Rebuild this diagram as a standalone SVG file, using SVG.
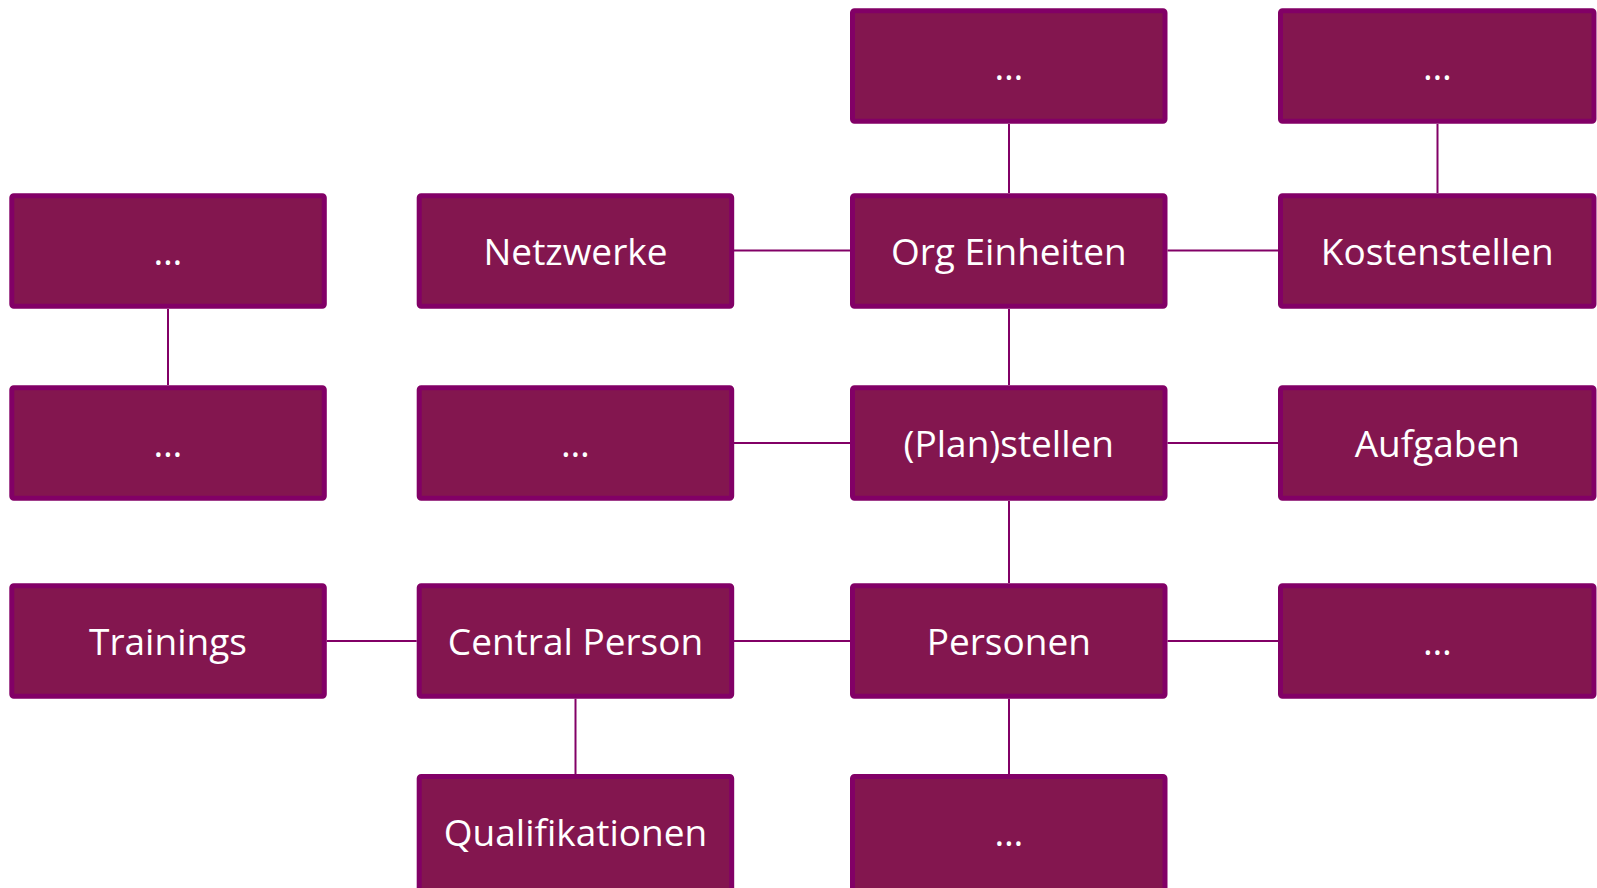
<svg xmlns="http://www.w3.org/2000/svg" width="1597" height="888" viewBox="0 0 1597 888">
<style>
.box{fill:#83164F;stroke:#820066;stroke-width:5}
.lbl{fill:#FFFFFF;font-family:"Open Sans","Liberation Sans",sans-serif;font-size:37px;text-anchor:middle}
.ln{stroke:#820066;stroke-width:2;fill:none}
</style>
<rect width="1597" height="888" fill="#FFFFFF"/>
<g id="connectors">
<line class="ln" x1="1009" y1="124" x2="1009" y2="193"/>
<line class="ln" x1="1437.5" y1="124" x2="1437.5" y2="193"/>
<line class="ln" x1="168" y1="309" x2="168" y2="385"/>
<line class="ln" x1="734" y1="250.5" x2="850" y2="250.5"/>
<line class="ln" x1="1167.5" y1="250.5" x2="1278" y2="250.5"/>
<line class="ln" x1="1009" y1="309" x2="1009" y2="385"/>
<line class="ln" x1="734" y1="443" x2="850" y2="443"/>
<line class="ln" x1="1167.5" y1="443" x2="1278" y2="443"/>
<line class="ln" x1="1009" y1="501" x2="1009" y2="583"/>
<line class="ln" x1="326.7" y1="641" x2="416.7" y2="641"/>
<line class="ln" x1="734" y1="641" x2="850" y2="641"/>
<line class="ln" x1="1167.5" y1="641" x2="1278" y2="641"/>
<line class="ln" x1="575.5" y1="698.7" x2="575.5" y2="774"/>
<line class="ln" x1="1009" y1="698.7" x2="1009" y2="774"/>
</g>
<g id="n-top-mid"><rect class="box" x="852.5" y="10.8" width="312.5" height="110.5" rx="2"/><text class="lbl" x="1008.8" y="80">…</text></g>
<g id="n-top-right"><rect class="box" x="1280.5" y="10.8" width="313.5" height="110.5" rx="2"/><text class="lbl" x="1437.3" y="80">…</text></g>
<g id="n-r1c1"><rect class="box" x="11.8" y="195.8" width="312.5" height="110.5" rx="2"/><text class="lbl" x="168" y="265">…</text></g>
<g id="n-netzwerke"><rect class="box" x="419.2" y="195.8" width="312.5" height="110.5" rx="2"/><text class="lbl" x="575.5" y="265">Netzwerke</text></g>
<g id="n-org"><rect class="box" x="852.5" y="195.8" width="312.5" height="110.5" rx="2"/><text class="lbl" x="1008.8" y="265">Org Einheiten</text></g>
<g id="n-kosten"><rect class="box" x="1280.5" y="195.8" width="313.5" height="110.5" rx="2"/><text class="lbl" x="1437.3" y="265">Kostenstellen</text></g>
<g id="n-r2c1"><rect class="box" x="11.8" y="387.8" width="312.5" height="110.5" rx="2"/><text class="lbl" x="168" y="457">…</text></g>
<g id="n-r2c2"><rect class="box" x="419.2" y="387.8" width="312.5" height="110.5" rx="2"/><text class="lbl" x="575.5" y="457">…</text></g>
<g id="n-plan"><rect class="box" x="852.5" y="387.8" width="312.5" height="110.5" rx="2"/><text class="lbl" x="1008.8" y="457">(Plan)stellen</text></g>
<g id="n-aufgaben"><rect class="box" x="1280.5" y="387.8" width="313.5" height="110.5" rx="2"/><text class="lbl" x="1437.3" y="457">Aufgaben</text></g>
<g id="n-trainings"><rect class="box" x="11.8" y="585.8" width="312.5" height="110.5" rx="2"/><text class="lbl" x="168" y="655">Trainings</text></g>
<g id="n-central"><rect class="box" x="419.2" y="585.8" width="312.5" height="110.5" rx="2"/><text class="lbl" x="575.5" y="655">Central Person</text></g>
<g id="n-personen"><rect class="box" x="852.5" y="585.8" width="312.5" height="110.5" rx="2"/><text class="lbl" x="1008.8" y="655">Personen</text></g>
<g id="n-r3c4"><rect class="box" x="1280.5" y="585.8" width="313.5" height="110.5" rx="2"/><text class="lbl" x="1437.3" y="655">…</text></g>
<g id="n-qual"><rect class="box" x="419.2" y="776.5" width="312.5" height="115" rx="2"/><text class="lbl" x="575.5" y="846">Qualifikationen</text></g>
<g id="n-r4c3"><rect class="box" x="852.5" y="776.5" width="312.5" height="115" rx="2"/><text class="lbl" x="1008.8" y="846">…</text></g>
</svg>
